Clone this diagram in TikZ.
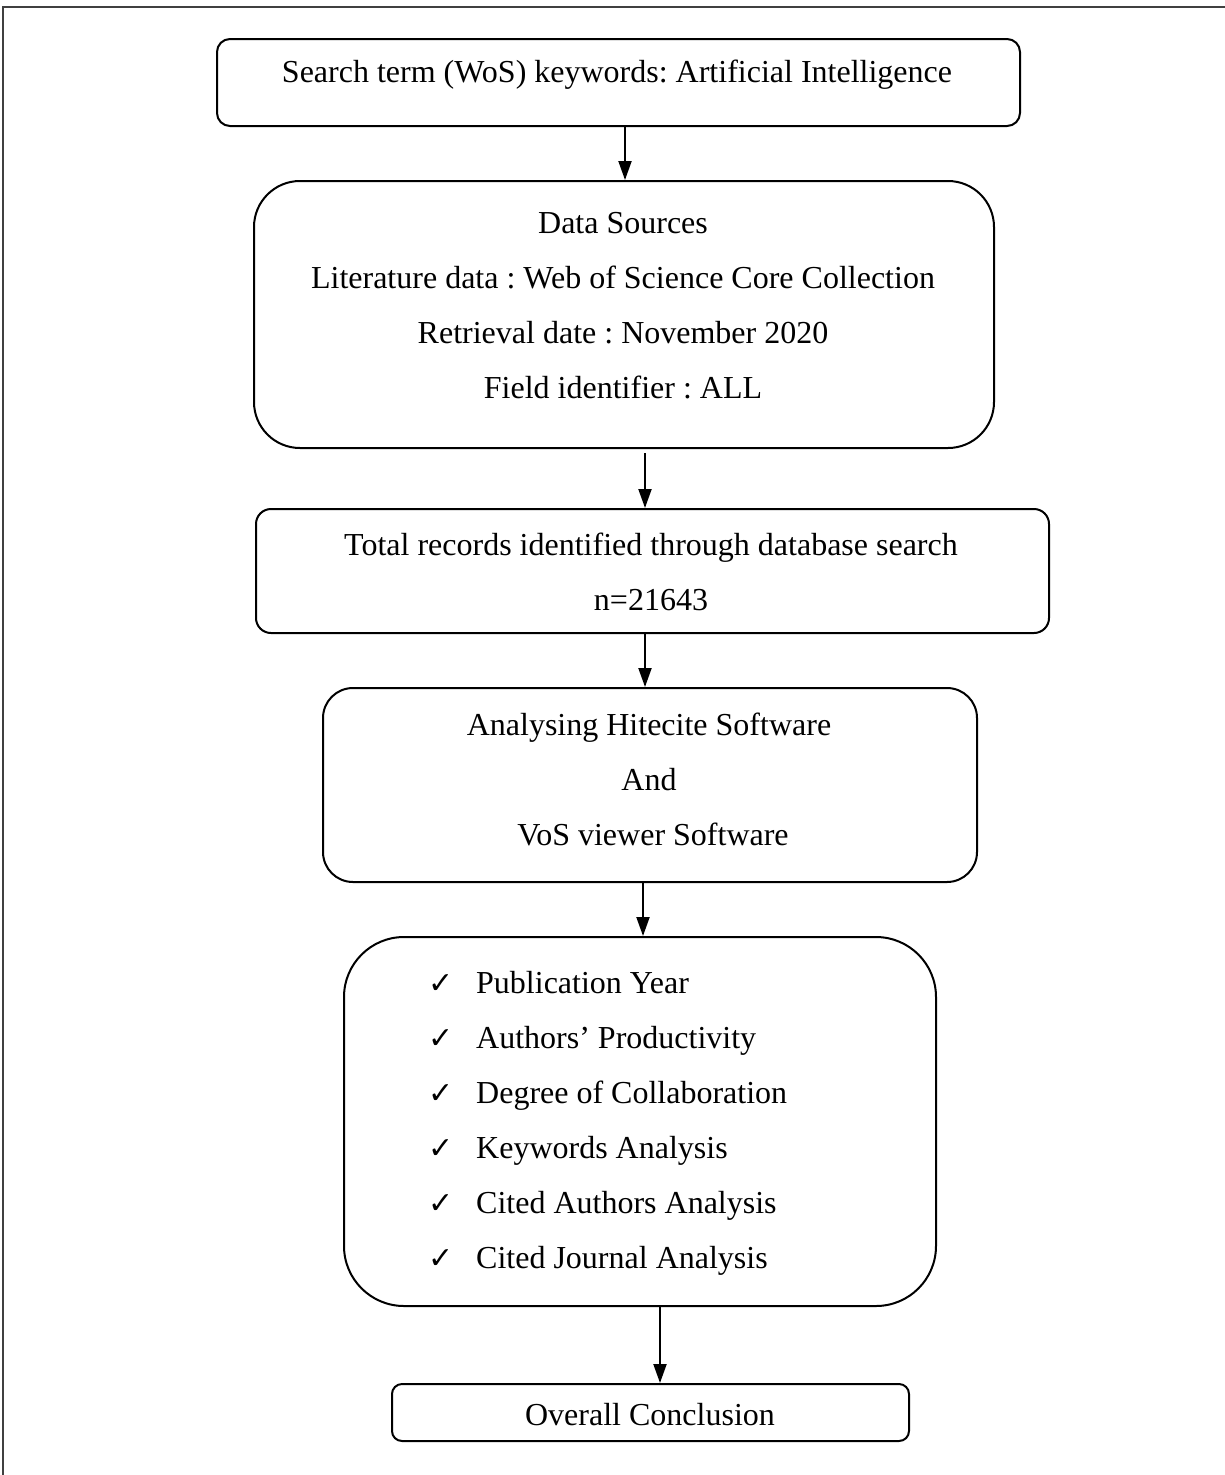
\documentclass[tikz,border=0pt]{standalone}
\usepackage{fontspec}
\setmainfont{Liberation Serif}
\newfontfamily\symfont{DejaVu Sans}
\usetikzlibrary{arrows.meta}
\frenchspacing
\begin{document}
\begin{tikzpicture}[x=1pt,y=-1pt,
  box/.style={draw,line width=2pt,inner sep=0pt,anchor=north west},
  txt/.style={anchor=base,inner sep=0pt,font=\frenchspacing\fontsize{32}{38}\selectfont},
  itm/.style={anchor=base west,inner sep=0pt,font=\fontsize{32}{38}\selectfont},
  chk/.style={anchor=base west,inner sep=0pt,font=\symfont\fontsize{30}{36}\selectfont},
  flow/.style={line width=2pt,-{Triangle[width=13pt,length=19pt]}}]
\useasboundingbox (0,0) rectangle (1225,1475);
\fill[white] (0,0) rectangle (1225,1475);
% frame (top and left edges)
\draw[line width=1.8pt,black!75] (3,1475) -- (3,7) -- (1225,7);
% boxes
\node[box,rounded corners=13pt,minimum width=803pt,minimum height=87pt] (b1) at (216,38) {};
\node[box,rounded corners=46pt,minimum width=740pt,minimum height=267pt] (b2) at (253,180) {};
\node[box,rounded corners=15pt,minimum width=793pt,minimum height=124pt] (b3) at (255,508) {};
\node[box,rounded corners=30pt,minimum width=654pt,minimum height=194pt] (b4) at (322,687) {};
\node[box,rounded corners=60pt,minimum width=592pt,minimum height=369pt] (b5) at (343,936) {};
\node[box,rounded corners=10pt,minimum width=517pt,minimum height=57pt] (b6) at (391,1383) {};
% texts
\node[txt] (t1) at (617,82) {Search term (WoS) keywords: Artificial Intelligence};
\node[txt] (t2a) at (623,233) {Data Sources};
\node[txt] (t2b) at (623,288) {Literature data : Web of Science Core Collection};
\node[txt] (t2c) at (623,343) {Retrieval date : November 2020};
\node[txt] (t2d) at (623,398) {Field identifier : ALL};
\node[txt] (t3a) at (651,555) {Total records identified through database search};
\node[txt] (t3b) at (651,610) {n=21643};
\node[txt] (t4a) at (649,735) {Analysing Hitecite Software};
\node[txt] (t4b) at (649,790) {And};
\node[txt] (t4c) at (653,845) {VoS viewer Software};
\foreach \y/\s [count=\i] in {993/Publication Year,1048/Authors’ Productivity,1103/Degree of Collaboration,1158/Keywords Analysis,1213/Cited Authors Analysis,1268/Cited Journal Analysis}{
  \node[chk] (c\i) at (428,\y) {✓};
  \node[itm] (l\i) at (476,\y) {\s};
}
\node[txt] (t6) at (650,1425) {Overall Conclusion};
% connectors
\coordinate (a1s) at (625,125); \coordinate (a1e) at (625,180);
\coordinate (a2s) at (645,453); \coordinate (a2e) at (645,508);
\coordinate (a3s) at (645,632); \coordinate (a3e) at (645,687);
\coordinate (a4s) at (643,881); \coordinate (a4e) at (643,936);
\coordinate (a5s) at (660,1305); \coordinate (a5e) at (660,1383);
\draw[flow] (a1s) -- (a1e);
\draw[flow] (a2s) -- (a2e);
\draw[flow] (a3s) -- (a3e);
\draw[flow] (a4s) -- (a4e);
\draw[flow] (a5s) -- (a5e);
\end{tikzpicture}
\end{document}
